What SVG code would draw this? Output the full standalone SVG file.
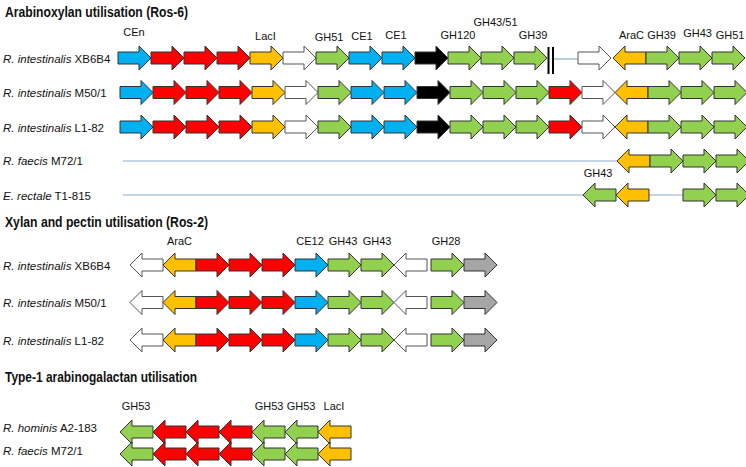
<svg xmlns="http://www.w3.org/2000/svg" xmlns:xlink="http://www.w3.org/1999/xlink" width="746" height="467" viewBox="0 0 746 467">
<style>
text{font-family:"Liberation Sans",Arial,sans-serif;fill:#111}
.t{font-size:14px;font-weight:bold}
.g{font-size:11px;text-anchor:middle}
.l{font-size:11.5px}
.i{font-style:italic}
use{stroke:#333;stroke-width:1;stroke-linejoin:miter}
.b{fill:#00B0F0}.r{fill:#FF0000}.y{fill:#FFC000}.gr{fill:#92D050}.k{fill:#000}.w{fill:#fff;stroke:#555}.s{fill:#A6A6A6}
.ln{stroke:#8EA9CF;stroke-width:1.2;fill:none}
</style>
<defs>
<path id="ar" d="M0,-6H21V-12L33,0L21,12V6H0Z"/>
<path id="al" d="M33,-6H12V-12L0,0L12,12V6H33Z"/>
</defs>
<rect width="746" height="467" fill="#fff"/>

<text class="t" x="5" y="17" textLength="183" lengthAdjust="spacingAndGlyphs">Arabinoxylan utilisation (Ros-6)</text>
<text class="t" x="5" y="227" textLength="203" lengthAdjust="spacingAndGlyphs">Xylan and pectin utilisation (Ros-2)</text>
<text class="t" x="5" y="382" textLength="192" lengthAdjust="spacingAndGlyphs">Type-1 arabinogalactan utilisation</text>

<g id="connectors">
<line class="ln" x1="553" y1="59" x2="578" y2="59"/>
<line class="ln" x1="123" y1="161" x2="617" y2="161"/>
<line class="ln" x1="123" y1="195" x2="583" y2="195"/>
<line class="ln" x1="649" y1="195" x2="683" y2="195"/>
<line x1="548.5" y1="47" x2="548.5" y2="74" stroke="#000" stroke-width="2"/>
<line x1="553" y1="47" x2="553" y2="74" stroke="#000" stroke-width="2"/>
</g>

<g id="ros6-labels">
<text class="g" x="134" y="36">CEn</text>
<text class="g" x="265.5" y="40">LacI</text>
<text class="g" x="329" y="41">GH51</text>
<text class="g" x="362" y="40">CE1</text>
<text class="g" x="396" y="39">CE1</text>
<text class="g" x="458" y="39">GH120</text>
<text class="g" x="495.5" y="26">GH43/51</text>
<text class="g" x="533" y="39">GH39</text>
<text class="g" x="631.5" y="39">AraC</text>
<text class="g" x="661.5" y="39">GH39</text>
<text class="g" x="697.5" y="37">GH43</text>
<text class="g" x="730" y="39">GH51</text>
<text class="g" x="598" y="177">GH43</text>
</g>

<g id="ros6-row1">
<text class="l" x="3" y="63"><tspan class="i">R. intestinalis</tspan> XB6B4</text>
<use href="#ar" x="118" y="58" class="b"/>
<use href="#ar" x="151" y="58" class="r"/>
<use href="#ar" x="184" y="58" class="r"/>
<use href="#ar" x="217" y="58" class="r"/>
<use href="#ar" x="250" y="58" class="y"/>
<use href="#ar" x="283" y="58" class="w"/>
<use href="#ar" x="316" y="58" class="gr"/>
<use href="#ar" x="349" y="58" class="b"/>
<use href="#ar" x="382" y="58" class="b"/>
<use href="#ar" x="415" y="58" class="k"/>
<use href="#ar" x="448" y="58" class="gr"/>
<use href="#ar" x="481" y="58" class="gr"/>
<use href="#ar" x="514" y="58" class="gr"/>
<use href="#ar" x="578" y="58" class="w"/>
<use href="#al" x="613" y="58" class="y"/>
<use href="#ar" x="646" y="58" class="gr"/>
<use href="#ar" x="679" y="58" class="gr"/>
<use href="#ar" x="712" y="58" class="gr"/>
</g>

<g id="ros6-row2">
<text class="l" x="3" y="97"><tspan class="i">R. intestinalis</tspan> M50/1</text>
<use href="#ar" x="120" y="92.5" class="b"/>
<use href="#ar" x="153" y="92.5" class="r"/>
<use href="#ar" x="186" y="92.5" class="r"/>
<use href="#ar" x="219" y="92.5" class="r"/>
<use href="#ar" x="252" y="92.5" class="y"/>
<use href="#ar" x="285" y="92.5" class="w"/>
<use href="#ar" x="318" y="92.5" class="gr"/>
<use href="#ar" x="351" y="92.5" class="b"/>
<use href="#ar" x="384" y="92.5" class="b"/>
<use href="#ar" x="417" y="92.5" class="k"/>
<use href="#ar" x="450" y="92.5" class="gr"/>
<use href="#ar" x="483" y="92.5" class="gr"/>
<use href="#ar" x="516" y="92.5" class="gr"/>
<use href="#ar" x="549" y="92.5" class="r"/>
<use href="#ar" x="582" y="92.5" class="w"/>
<use href="#al" x="615" y="92.5" class="y"/>
<use href="#ar" x="648" y="92.5" class="gr"/>
<use href="#ar" x="681" y="92.5" class="gr"/>
<use href="#ar" x="714" y="92.5" class="gr"/>
</g>

<g id="ros6-row3">
<text class="l" x="3" y="132"><tspan class="i">R. intestinalis</tspan> L1-82</text>
<use href="#ar" x="120" y="127" class="b"/>
<use href="#ar" x="153" y="127" class="r"/>
<use href="#ar" x="186" y="127" class="r"/>
<use href="#ar" x="219" y="127" class="r"/>
<use href="#ar" x="252" y="127" class="y"/>
<use href="#ar" x="285" y="127" class="w"/>
<use href="#ar" x="318" y="127" class="gr"/>
<use href="#ar" x="351" y="127" class="b"/>
<use href="#ar" x="384" y="127" class="b"/>
<use href="#ar" x="417" y="127" class="k"/>
<use href="#ar" x="450" y="127" class="gr"/>
<use href="#ar" x="483" y="127" class="gr"/>
<use href="#ar" x="516" y="127" class="gr"/>
<use href="#ar" x="549" y="127" class="r"/>
<use href="#ar" x="582" y="127" class="w"/>
<use href="#al" x="615" y="127" class="y"/>
<use href="#ar" x="648" y="127" class="gr"/>
<use href="#ar" x="681" y="127" class="gr"/>
<use href="#ar" x="714" y="127" class="gr"/>
</g>

<g id="ros6-row4">
<text class="l" x="3" y="165"><tspan class="i">R. faecis</tspan> M72/1</text>
<use href="#al" x="617" y="161" class="y"/>
<use href="#ar" x="650" y="161" class="gr"/>
<use href="#ar" x="683" y="161" class="gr"/>
<use href="#ar" x="716" y="161" class="gr"/>
</g>

<g id="ros6-row5">
<text class="l" x="3" y="200"><tspan class="i">E. rectale</tspan>  T1-815</text>
<use href="#al" x="583" y="195" class="gr"/>
<use href="#al" x="616" y="195" class="y"/>
<use href="#ar" x="683" y="195" class="gr"/>
<use href="#ar" x="716" y="195" class="gr"/>
</g>

<g id="ros2-labels">
<text class="g" x="179.5" y="245">AraC</text>
<text class="g" x="310" y="245">CE12</text>
<text class="g" x="343" y="245">GH43</text>
<text class="g" x="377" y="245">GH43</text>
<text class="g" x="446" y="245">GH28</text>
</g>

<g id="ros2-row1">
<text class="l" x="3" y="270"><tspan class="i">R. intestinalis</tspan> XB6B4</text>
<use href="#al" x="130" y="265" class="w"/>
<use href="#al" x="163" y="265" class="y"/>
<use href="#ar" x="196" y="265" class="r"/>
<use href="#ar" x="229" y="265" class="r"/>
<use href="#ar" x="262" y="265" class="r"/>
<use href="#ar" x="295" y="265" class="b"/>
<use href="#ar" x="328" y="265" class="gr"/>
<use href="#ar" x="361" y="265" class="gr"/>
<use href="#al" x="394" y="265" class="w"/>
<use href="#ar" x="431" y="265" class="gr"/>
<use href="#ar" x="464" y="265" class="s"/>
</g>

<g id="ros2-row2">
<text class="l" x="3" y="307"><tspan class="i">R. intestinalis</tspan> M50/1</text>
<use href="#al" x="130" y="302.5" class="w"/>
<use href="#al" x="163" y="302.5" class="y"/>
<use href="#ar" x="196" y="302.5" class="r"/>
<use href="#ar" x="229" y="302.5" class="r"/>
<use href="#ar" x="262" y="302.5" class="r"/>
<use href="#ar" x="295" y="302.5" class="b"/>
<use href="#ar" x="328" y="302.5" class="gr"/>
<use href="#ar" x="361" y="302.5" class="gr"/>
<use href="#al" x="394" y="302.5" class="w"/>
<use href="#ar" x="431" y="302.5" class="gr"/>
<use href="#ar" x="464" y="302.5" class="s"/>
</g>

<g id="ros2-row3">
<text class="l" x="3" y="345"><tspan class="i">R. intestinalis</tspan> L1-82</text>
<use href="#al" x="130" y="340" class="w"/>
<use href="#al" x="163" y="340" class="y"/>
<use href="#ar" x="196" y="340" class="r"/>
<use href="#ar" x="229" y="340" class="r"/>
<use href="#ar" x="262" y="340" class="r"/>
<use href="#ar" x="295" y="340" class="b"/>
<use href="#ar" x="328" y="340" class="gr"/>
<use href="#ar" x="361" y="340" class="gr"/>
<use href="#al" x="394" y="340" class="w"/>
<use href="#ar" x="431" y="340" class="gr"/>
<use href="#ar" x="464" y="340" class="s"/>
</g>

<g id="ag-labels">
<text class="g" x="136" y="410">GH53</text>
<text class="g" x="269" y="410">GH53</text>
<text class="g" x="301" y="410">GH53</text>
<text class="g" x="334" y="410">LacI</text>
</g>

<g id="ag-row1">
<text class="l" x="3" y="432"><tspan class="i">R. hominis</tspan> A2-183</text>
<use href="#al" x="120" y="432" class="gr"/>
<use href="#al" x="153" y="432" class="r"/>
<use href="#al" x="186" y="432" class="r"/>
<use href="#al" x="219" y="432" class="r"/>
<use href="#al" x="252" y="432" class="gr"/>
<use href="#al" x="285" y="432" class="gr"/>
<use href="#al" x="318" y="432" class="y"/>
</g>

<g id="ag-row2">
<text class="l" x="3" y="455"><tspan class="i">R. faecis</tspan> M72/1</text>
<use href="#al" x="120" y="454" class="gr"/>
<use href="#al" x="153" y="454" class="r"/>
<use href="#al" x="186" y="454" class="r"/>
<use href="#al" x="219" y="454" class="r"/>
<use href="#al" x="252" y="454" class="gr"/>
<use href="#al" x="285" y="454" class="gr"/>
<use href="#al" x="318" y="454" class="y"/>
</g>
</svg>
